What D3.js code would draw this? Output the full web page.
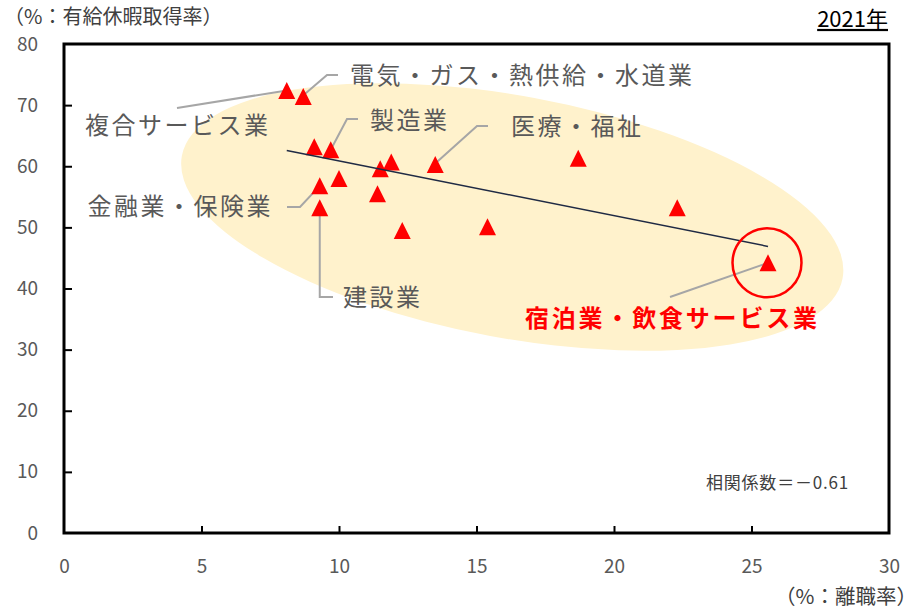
<!DOCTYPE html>
<html><head><meta charset="utf-8">
<script src="https://cdn.jsdelivr.net/npm/d3@7"></script>
<style>
html,body{margin:0;padding:0;background:#fff;}
svg{display:block;font-family:"Noto Sans CJK JP","Noto Sans",sans-serif;}
</style></head>
<body><svg id="c" width="918" height="610"></svg>
<script>
// ---- data ----
const turnoverRate = [8.1, 8.7, 9.1, 9.7, 10.0, 9.3, 9.3, 11.5, 11.9, 11.4, 12.3, 13.5, 15.4, 18.7, 22.3, 25.6];
const leaveRate    = [72.4, 71.4, 63.2, 62.7, 58.0, 56.8, 53.2, 59.6, 60.7, 55.5, 49.5, 60.3, 50.1, 61.3, 53.2, 44.2];
const industryNames = ["複合サービス業","電気・ガス・熱供給・水道業","","製造業","","金融業・保険業","建設業","","","","","医療・福祉","","","","宿泊業・飲食サービス業"];
const xTicks = [0,5,10,15,20,25,30];
const yTicks = [0,10,20,30,40,50,60,70,80];
const yAxisTitle = "（%：有給休暇取得率）";
const xAxisTitle = "（%：離職率）";
const yearLabel = "2021年";
const corrLabel = "相関係数＝－0.61";

const svg = d3.select("#c");
const L = 64, R = 889, T = 44, B = 533;
const x = d3.scaleLinear().domain([0,30]).range([L,R]);
const y = d3.scaleLinear().domain([0,80]).range([B,T]);
const pts = turnoverRate.map((v,i)=>({x:v,y:leaveRate[i],name:industryNames[i]}));

// ellipse highlight
svg.append("ellipse")
  .attr("cx", x(16.3)).attr("cy", y(51.7))
  .attr("rx", 336).attr("ry", 121)
  .attr("transform", `rotate(10.5 ${x(16.3)} ${y(51.7)})`)
  .attr("fill", "#FFF2CC");

// leader lines
const gray = "#A6A6A6";
const leaders = {
  "複合サービス業": p => [[177,108],[p[0],p[1]]],
  "電気・ガス・熱供給・水道業": p => [[p[0]+1,p[1]-2],[327,75],[338,75]],
  "製造業": p => [[p[0],p[1]],[347,119],[358,119]],
  "医療・福祉": p => [[p[0],p[1]-1],[477,126],[488,126]],
  "金融業・保険業": p => [[p[0],p[1]],[300,207],[287,207]],
  "建設業": p => [[p[0],p[1]],[p[0],297],[333,297]],
  "宿泊業・飲食サービス業": p => [[p[0],p[1]],[670,297]]
};
const line = d3.line();
pts.filter(d=>d.name).forEach(d=>{
  svg.append("path").attr("d", line(leaders[d.name]([x(d.x), y(d.y)])))
    .attr("fill","none").attr("stroke",gray).attr("stroke-width",2);
});

// markers
const tri = {draw(ctx, size){ const h = Math.sqrt(size)/2; ctx.moveTo(0,-h); ctx.lineTo(h,h); ctx.lineTo(-h,h); ctx.closePath(); }};
svg.append("g").selectAll("path").data(pts).join("path")
  .attr("d", d3.symbol().type(tri).size(17*17))
  .attr("transform", d=>`translate(${x(d.x)},${y(d.y)})`)
  .attr("fill","#FF0000");

// linear trend line (least squares)
const mx = d3.mean(turnoverRate), my = d3.mean(leaveRate);
const slope = d3.sum(pts,d=>(d.x-mx)*(d.y-my))/d3.sum(pts,d=>(d.x-mx)**2);
const icpt = my - slope*mx;
const [x0,x1] = d3.extent(turnoverRate);
svg.append("line")
  .attr("x1",x(x0)).attr("y1",y(icpt+slope*x0))
  .attr("x2",x(x1)).attr("y2",y(icpt+slope*x1))
  .attr("stroke","#1F2A44").attr("stroke-width",1.5);

// red circle
const last = pts[pts.length-1];
svg.append("circle").attr("cx",x(last.x)-1).attr("cy",y(last.y)).attr("r",34.5)
  .attr("fill","none").attr("stroke","#FF0000").attr("stroke-width",2.5);

// labels
const lab = {
  "複合サービス業": [85,125,"start"],
  "電気・ガス・熱供給・水道業": [350,75,"start"],
  "製造業": [370,120,"start"],
  "医療・福祉": [511,126,"start"],
  "金融業・保険業": [273,206,"end"],
  "建設業": [343,297,"start"]
};
pts.filter(d=>d.name && lab[d.name]).forEach(d=>{
  const [lx,ly,anc] = lab[d.name];
  svg.append("text").attr("x",lx).attr("y",ly).attr("dy","0.36em")
    .attr("text-anchor",anc).attr("font-size",24).attr("letter-spacing",2.5)
    .attr("fill","#595959").text(d.name);
});
svg.append("text").attr("x",525).attr("y",318).attr("dy","0.36em")
  .attr("font-size",24).attr("font-weight","bold").attr("letter-spacing",2.8)
  .attr("fill","#FF0000").text(last.name);

// frame & axes
svg.append("rect").attr("x",L).attr("y",T).attr("width",R-L).attr("height",B-T)
  .attr("fill","none").attr("stroke","#000").attr("stroke-width",3);
const ya = svg.append("g").attr("transform",`translate(${L},0)`)
  .call(d3.axisLeft(y).tickValues(yTicks).tickSize(-8).tickPadding(26));
const xa = svg.append("g").attr("transform",`translate(0,${B})`)
  .call(d3.axisBottom(x).tickValues(xTicks).tickSize(-7).tickPadding(27));
[ya,xa].forEach(g=>{
  g.select(".domain").remove();
  g.selectAll(".tick line").attr("stroke","#000").attr("stroke-width",2);
  g.selectAll(".tick text").attr("font-size",19).attr("fill","#595959")
    .attr("font-family",'"Noto Sans CJK JP",sans-serif');
});
xa.selectAll(".tick line").filter(d=>d===0||d===30).remove();
ya.selectAll(".tick line").filter(d=>d===0||d===80).remove();

// titles
svg.append("text").attr("x",4).attr("y",17).attr("dy","0.36em").attr("font-size",20)
  .attr("fill","#404040").text(yAxisTitle);
svg.append("text").attr("x",917).attr("y",597).attr("dy","0.36em").attr("text-anchor","end")
  .attr("font-size",20.5).attr("fill","#404040").text(xAxisTitle);
svg.append("text").attr("x",888).attr("y",19).attr("dy","0.36em").attr("text-anchor","end")
  .attr("font-size",22).attr("fill","#000").attr("text-decoration","underline").text(yearLabel);
svg.append("text").attr("x",849).attr("y",483).attr("dy","0.36em").attr("text-anchor","end")
  .attr("font-size",17).attr("letter-spacing",0.8).attr("fill","#404040").text(corrLabel);
</script></body></html>
